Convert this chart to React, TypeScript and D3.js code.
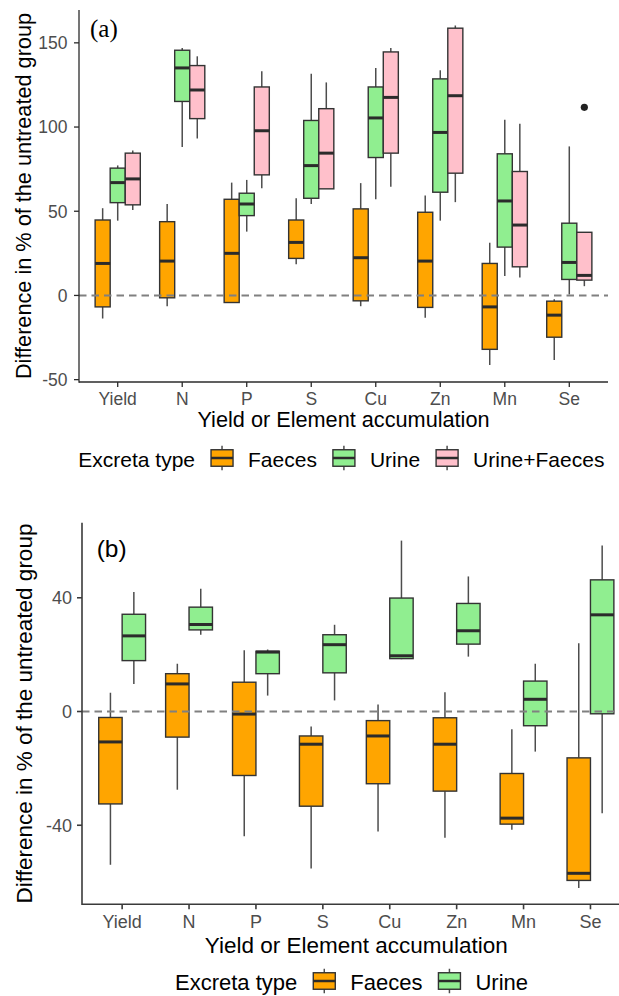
import React, { useEffect, useRef } from "react";
import * as d3 from "d3";

const categories = ["Yield", "N", "P", "S", "Cu", "Zn", "Mn", "Se"];
const typesA = ["Faeces", "Urine", "Urine+Faeces"];
const typesB = ["Faeces", "Urine"];
const typeColors: Record<string, string> = {
  Faeces: "#FFA500",
  Urine: "#90EE90",
  "Urine+Faeces": "#FFC0CB",
};
const ticksA = [-50, 0, 50, 100, 150];
const ticksB = [-40, 0, 40];

// Each entry: [lower whisker, Q1, median, Q3, upper whisker]
const aFaeces = [
  [-13.7, -6.8, 19, 44.8, 51.8],
  [-6.4, -1.4, 20.4, 43.8, 54.3],
  [-4.2, -4.2, 25, 57.1, 67],
  [18.5, 22, 31.5, 44.8, 57.7],
  [-6.4, -3.2, 22.4, 51.4, 66.7],
  [-13.3, -7.1, 20.4, 49.4, 59.3],
  [-41.3, -32, -6.8, 19, 31.3],
  [-38.3, -24.8, -11.7, -3.4, -2.2],
];
const aUrine = [
  [44.4, 55.1, 67, 75.6, 77.2],
  [88.1, 115.2, 135.1, 145.6, 147],
  [37.9, 47.4, 54.3, 60.7, 68.6],
  [54.3, 57.7, 77.1, 103.9, 131.7],
  [57.1, 81.9, 105.4, 123.8, 135.1],
  [44.4, 61.3, 96.8, 128.6, 133.7],
  [11.5, 28.7, 56.1, 84.1, 104.3],
  [0.6, 9.5, 19.6, 42.9, 88.5],
];
const aUrineFaeces = [
  [50.8, 53.8, 69.2, 84.5, 86],
  [93.2, 105, 122, 136.5, 142],
  [63.7, 71.6, 97.8, 123.8, 133.1],
  [63.3, 63.3, 84.5, 110.9, 126.5],
  [64.6, 84.5, 117.6, 144.6, 147],
  [55.4, 72.6, 118.6, 158.7, 160.3],
  [10.7, 17, 41.8, 73.6, 102],
  [5.5, 9.1, 11.9, 37.5, 37.5],
];
const aOutliers = [{ category: "Se", type: "Urine+Faeces", value: 111.7 }];

const bFaeces = [
  [-53.9, -32.5, -10.7, -2.1, 6.6],
  [-27.5, -9, 9.7, 13.3, 16.8],
  [-43.9, -22.5, -0.9, 10.3, 21.5],
  [-55.2, -33.3, -11.5, -8.6, -5.3],
  [-42.2, -25.4, -8.6, -3.2, 2.5],
  [-44.4, -28, -11.5, -2.2, 6.8],
  [-41.6, -39.6, -37.5, -21.8, -6.2],
  [-62.1, -59.4, -56.9, -16.3, 24],
];
const bUrine = [
  [9.7, 17.9, 26.6, 34.2, 42],
  [27, 28.7, 30.6, 36.7, 43.2],
  [5.6, 13.3, 20.9, 21.2, 21.8],
  [3.9, 13.6, 23.5, 27, 30.5],
  [18.4, 18.6, 19.6, 39.9, 60.1],
  [19.3, 23.7, 28.4, 38, 47.5],
  [-14.1, -5, 4.3, 10.7, 16.8],
  [-35.8, -0.8, 34, 46.3, 58.4],
];
const bOutliers: { category: string; type: string; value: number }[] = [];

const SANS = '"Liberation Sans", Arial, Helvetica, sans-serif';
const SERIF = '"Liberation Serif", "Times New Roman", serif';

type Panel = {
  left: number;
  right: number;
  top: number;
  bottom: number;
  yDomain: [number, number];
  ticks: number[];
  types: string[];
  series: number[][][];
  outliers: { category: string; type: string; value: number }[];
  label: string;
  labelFont: string;
  labelSize: number;
  labelX: number;
  labelY: number;
  tickSize: number;
  tickLabelGap: number;
  xTickY: number;
  titleSize: number;
  xTitleY: number;
  yTitleX: number;
  legendSize: number;
  legendX: number;
  legendY: number;
  axisColor: string;
  axisWidth: number;
};

const panels: Panel[] = [
  {
    left: 79,
    right: 608,
    top: 10,
    bottom: 382,
    yDomain: [-51.4, 169.5],
    ticks: ticksA,
    types: typesA,
    series: [aFaeces, aUrine, aUrineFaeces],
    outliers: aOutliers,
    label: "(a)",
    labelFont: SERIF,
    labelSize: 25,
    labelX: 90,
    labelY: 37.2,
    tickSize: 17.5,
    tickLabelGap: 11.5,
    xTickY: 404.5,
    titleSize: 21.7,
    xTitleY: 426.7,
    yTitleX: 31,
    legendSize: 21,
    legendX: 78.3,
    legendY: 458,
    axisColor: "#2b2b2b",
    axisWidth: 1.3,
  },
  {
    left: 82,
    right: 630.6,
    top: 522.7,
    bottom: 904.3,
    yDomain: [-67.8, 66.4],
    ticks: ticksB,
    types: typesB,
    series: [bFaeces, bUrine],
    outliers: bOutliers,
    label: "(b)",
    labelFont: SANS,
    labelSize: 24.5,
    labelX: 96.7,
    labelY: 556.6,
    tickSize: 18,
    tickLabelGap: 10,
    xTickY: 927.7,
    titleSize: 22.5,
    xTitleY: 952.7,
    yTitleX: 32,
    legendSize: 22,
    legendX: 175,
    legendY: 981,
    axisColor: "#3a3a3a",
    axisWidth: 1.6,
  },
];

function drawPanel(svg: d3.Selection<SVGSVGElement, unknown, null, undefined>, p: Panel) {
  const g = svg.append("g");
  const x = d3.scaleLinear().domain([0.4, categories.length + 0.6]).range([p.left, p.right]);
  const y = d3.scaleLinear().domain(p.yDomain).range([p.bottom, p.top]);
  const n = p.series.length;
  const boxW = 0.7 / n;
  const outline = "#333333";

  p.series.forEach((vals, si) => {
    const type = p.types[si];
    const offset = (si - (n - 1) / 2) * boxW;
    const grp = g.append("g");
    vals.forEach((v, ci) => {
      const pos = ci + 1 + offset;
      const cx = x(pos);
      const x0 = x(pos - boxW / 2);
      const x1 = x(pos + boxW / 2);
      const [lo, q1, med, q3, hi] = v;
      grp.append("line").attr("x1", cx).attr("x2", cx).attr("y1", y(hi)).attr("y2", y(q3))
        .attr("stroke", "#4d4d4d").attr("stroke-width", 1.5);
      grp.append("line").attr("x1", cx).attr("x2", cx).attr("y1", y(q1)).attr("y2", y(lo))
        .attr("stroke", "#4d4d4d").attr("stroke-width", 1.5);
      grp.append("rect").attr("x", x0).attr("y", y(q3)).attr("width", x1 - x0)
        .attr("height", Math.max(0.5, y(q1) - y(q3)))
        .attr("fill", typeColors[type]).attr("stroke", outline).attr("stroke-width", 1.4);
      grp.append("line").attr("x1", x0).attr("x2", x1).attr("y1", y(med)).attr("y2", y(med))
        .attr("stroke", "#2b2b2b").attr("stroke-width", 3);
    });
    p.outliers.filter((o) => o.type === type).forEach((o) => {
      const ci = categories.indexOf(o.category);
      grp.append("circle").attr("cx", x(ci + 1 + offset)).attr("cy", y(o.value)).attr("r", 3.6)
        .attr("fill", "#222");
    });
  });

  // dashed zero line
  g.append("line").attr("x1", p.left).attr("x2", p.right).attr("y1", y(0)).attr("y2", y(0))
    .attr("stroke", "#808080").attr("stroke-width", 1.9).attr("stroke-dasharray", "7.5,5");

  // axes
  g.append("line").attr("x1", p.left).attr("x2", p.left).attr("y1", p.top).attr("y2", p.bottom + p.axisWidth / 2)
    .attr("stroke", p.axisColor).attr("stroke-width", p.axisWidth);
  g.append("line").attr("x1", p.left).attr("x2", p.right).attr("y1", p.bottom).attr("y2", p.bottom)
    .attr("stroke", p.axisColor).attr("stroke-width", p.axisWidth);

  p.ticks.forEach((t) => {
    g.append("line").attr("x1", p.left - 5).attr("x2", p.left).attr("y1", y(t)).attr("y2", y(t))
      .attr("stroke", p.axisColor).attr("stroke-width", p.axisWidth);
    g.append("text").attr("x", p.left - p.tickLabelGap).attr("y", y(t)).attr("dy", "0.36em")
      .attr("text-anchor", "end").attr("font-family", SANS).attr("font-size", p.tickSize)
      .attr("fill", "#4D4D4D").text(String(t));
  });
  categories.forEach((c, ci) => {
    const cx = x(ci + 1);
    g.append("line").attr("x1", cx).attr("x2", cx).attr("y1", p.bottom).attr("y2", p.bottom + 5)
      .attr("stroke", p.axisColor).attr("stroke-width", p.axisWidth);
    g.append("text").attr("x", cx).attr("y", p.xTickY).attr("text-anchor", "middle")
      .attr("font-family", SANS).attr("font-size", p.tickSize).attr("fill", "#4D4D4D").text(c);
  });

  // titles
  g.append("text").attr("x", (p.left + p.right) / 2).attr("y", p.xTitleY).attr("text-anchor", "middle")
    .attr("font-family", SANS).attr("font-size", p.titleSize).attr("fill", "#000")
    .text("Yield or Element accumulation");
  g.append("text")
    .attr("transform", `translate(${p.yTitleX},${(p.top + p.bottom) / 2}) rotate(-90)`)
    .attr("text-anchor", "middle").attr("font-family", SANS).attr("font-size", p.titleSize)
    .attr("fill", "#000").text("Difference in % of the untreated group");

  // panel label
  g.append("text").attr("x", p.labelX).attr("y", p.labelY).attr("font-family", p.labelFont)
    .attr("font-size", p.labelSize).attr("fill", "#000").text(p.label);

  // legend
  const lg = g.append("g");
  const baseY = p.legendY + 9;
  const title = lg.append("text").attr("x", p.legendX).attr("y", baseY).attr("font-family", SANS)
    .attr("font-size", p.legendSize).attr("fill", "#000").text("Excreta type");
  let cur = p.legendX + (title.node() as SVGTextElement).getComputedTextLength() + 16;
  const keyW = 22;
  const keyH = 16.5;
  p.types.forEach((type) => {
    const kx = cur;
    const kc = kx + keyW / 2;
    lg.append("line").attr("x1", kc).attr("x2", kc).attr("y1", p.legendY - keyH / 2 - 4)
      .attr("y2", p.legendY + keyH / 2 + 4).attr("stroke", "#4d4d4d").attr("stroke-width", 1.5);
    lg.append("rect").attr("x", kx).attr("y", p.legendY - keyH / 2).attr("width", keyW).attr("height", keyH)
      .attr("fill", typeColors[type]).attr("stroke", outline).attr("stroke-width", 1.4);
    lg.append("line").attr("x1", kx).attr("x2", kx + keyW).attr("y1", p.legendY).attr("y2", p.legendY)
      .attr("stroke", "#2b2b2b").attr("stroke-width", 2.5);
    const t = lg.append("text").attr("x", kx + keyW + 15).attr("y", baseY).attr("font-family", SANS)
      .attr("font-size", p.legendSize).attr("fill", "#000").text(type);
    cur = kx + keyW + 15 + (t.node() as SVGTextElement).getComputedTextLength() + 16;
  });
}

export default function App() {
  const ref = useRef<SVGSVGElement>(null);
  useEffect(() => {
    if (!ref.current) return;
    const svg = d3.select(ref.current);
    svg.selectAll("*").remove();
    panels.forEach((p) => drawPanel(svg, p));
  }, []);
  return (
    <div
      style={{
        position: "absolute",
        left: 0,
        top: 0,
        width: 619,
        height: 996,
        overflow: "hidden",
        background: "#fff",
      }}
    >
      <svg ref={ref} width={619} height={996} style={{ display: "block" }} />
    </div>
  );
}
